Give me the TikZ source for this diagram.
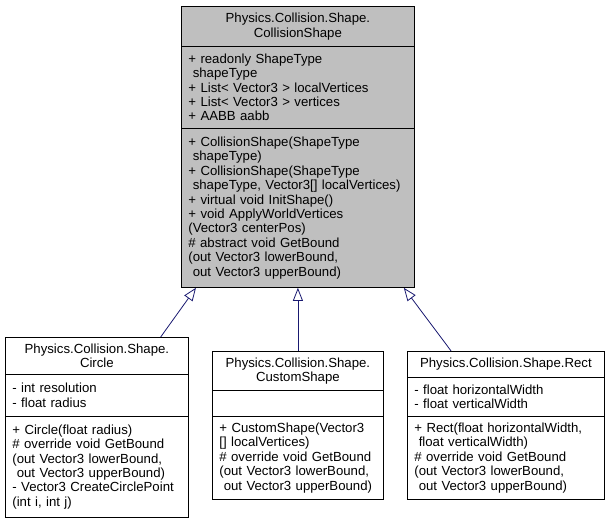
\documentclass[tikz,border=0pt]{standalone}
\usepackage{fontspec}
\setmainfont{Liberation Sans}
\usepackage{xcolor}
\usepackage{tikz}
\usetikzlibrary{positioning}
\usetikzlibrary{arrows.meta,shapes}
\usetikzlibrary{calc}
\definecolor{umlgrey}{HTML}{BFBFBF}
\definecolor{umlblue}{HTML}{191970}
\newcommand\umlfont{\fontsize{13.2}{14.4}\selectfont}
\newcommand\lsp{\mbox{\ }}
\tikzset{uml/.style={rectangle,draw,line width=0.8pt,anchor=north west,inner xsep=7pt,inner ysep=0pt,align=left,font=\umlfont},
  umltitle/.style={uml,align=center},
  base/.style={fill=umlgrey},
  inh/.style={-{Triangle[open,length=13pt,width=10pt]},draw=umlblue,line width=0.8pt}}

\begin{document}
\begin{tikzpicture}[x=1pt,y=-1pt]
	\useasboundingbox (0,0) rectangle (609,521);

	% base class
	\node[umltitle,base,minimum width=233pt,minimum height=40pt] (csT) at (181,6) {Physics.Collision.Shape.\\CollisionShape};
	\node[uml,base,minimum width=233pt,text width=219pt,minimum height=82pt] (csA) at (181,46) {+ readonly ShapeType\\ \lsp shapeType\\ + List< Vector3 > localVertices\\ + List< Vector3 > vertices\\ + AABB aabb};
	\node[uml,base,minimum width=233pt,text width=219pt,minimum height=159pt] (csM) at (181,128) {+ CollisionShape(ShapeType\\ \lsp shapeType)\\ + CollisionShape(ShapeType\\ \lsp shapeType, Vector3{[]} localVertices)\\ + virtual void InitShape()\\ + void ApplyWorldVertices\\ (Vector3 centerPos)\\ \# abstract void GetBound\\ (out Vector3 lowerBound,\\ \lsp out Vector3 upperBound)};

	% Circle
	\node[umltitle,minimum width=183pt,minimum height=37pt] (circT) at (5,337) {Physics.Collision.Shape.\\Circle};
	\node[uml,minimum width=183pt,text width=169pt,minimum height=42pt] (circA) at (5,374) {- int resolution\\ - float radius};
	\node[uml,minimum width=183pt,text width=169pt,minimum height=101pt] (circM) at (5,416) {+ Circle(float radius)\\ \# override void GetBound\\ (out Vector3 lowerBound,\\ \lsp out Vector3 upperBound)\\ - Vector3 CreateCirclePoint\\ (int i, int j)};

	% CustomShape
	\node[umltitle,minimum width=171pt,minimum height=39pt] (custT) at (212,351) {Physics.Collision.Shape.\\CustomShape};
	\node[uml,minimum width=171pt,text width=157pt,minimum height=26pt] (custA) at (212,390) {};
	\node[uml,minimum width=171pt,text width=157pt,minimum height=83pt] (custM) at (212,416) {+ CustomShape(Vector3\\{}[] localVertices)\\ \# override void GetBound\\ (out Vector3 lowerBound,\\ \lsp out Vector3 upperBound)};

	% Rect
	\node[umltitle,minimum width=197pt,minimum height=26pt] (rectT) at (407,351) {Physics.Collision.Shape.Rect};
	\node[uml,minimum width=197pt,text width=183pt,minimum height=39pt] (rectA) at (407,377) {- float horizontalWidth\\ - float verticalWidth};
	\node[uml,minimum width=197pt,text width=183pt,minimum height=83pt] (rectM) at (407,416) {+ Rect(float horizontalWidth,\\ \lsp float verticalWidth)\\ \# override void GetBound\\ (out Vector3 lowerBound,\\ \lsp out Vector3 upperBound)};

	\foreach \sub/\f/\t in {circT/0.847/0.064, custT/0.5/0.5, rectT/0.223/0.953}
		\draw[inh] ($(\sub.north west)!\f!(\sub.north east)$) -- ($(csM.south west)!\t!(csM.south east)$);

\end{tikzpicture}
\end{document}
